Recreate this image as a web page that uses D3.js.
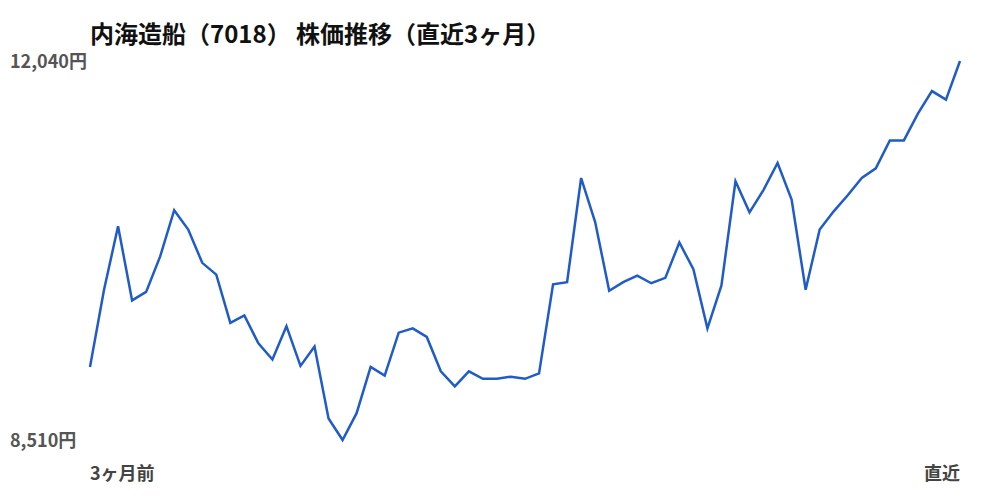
<!DOCTYPE html>
<html><head><meta charset="utf-8">
<script src="https://cdn.jsdelivr.net/npm/d3@7"></script>
<style>
html,body{margin:0;padding:0;background:#fff;}
text{font-family:"Noto Sans CJK JP","Noto Sans",sans-serif;}
</style></head>
<body>
<svg id="chart" width="1000" height="500"></svg>
<script>
const title = "内海造船（7018） 株価推移（直近3ヶ月）";
const prices = [9190,9910,10500,9810,9890,10220,10650,10470,10160,10050,
  9600,9670,9410,9260,9570,9200,9380,8710,8510,8760,
  9190,9110,9510,9550,9470,9150,9010,9150,9080,9080,
  9100,9080,9130,9960,9980,10950,10540,9900,9980,10040,
  9970,10020,10350,10100,9550,9950,10920,10630,10840,11090,
  10750,9910,10470,10640,10790,10950,11040,11300,11300,11550,
  11760,11680,12040];
const yTickLabels = ["8,510円","12,040円"];
const xTickLabels = ["3ヶ月前","直近"];

const svg = d3.select("#chart");
const x = d3.scaleLinear().domain([0, prices.length-1]).range([90,960]);
const y = d3.scaleLinear().domain([d3.min(prices), d3.max(prices)]).range([440,61]);

svg.append("text").attr("x",90).attr("y",35).attr("dy","0.35em")
  .attr("font-size",24).attr("font-weight","bold").attr("fill","#111")
  .text(title);

const yVals = [d3.min(prices), d3.max(prices)];
svg.selectAll(".ylab").data(yVals).enter().append("text")
  .attr("x",10).attr("y",d=>y(d)+1).attr("dy","0.35em")
  .attr("font-size",18).attr("font-weight","bold").attr("fill","#555")
  .text((d,i)=>yTickLabels[i]);

svg.selectAll(".xlab").data([0, prices.length-1]).enter().append("text")
  .attr("x",d=>x(d)).attr("y",474).attr("dy","0.35em")
  .attr("text-anchor",(d,i)=>i===0?"start":"end")
  .attr("font-size",18).attr("font-weight","bold").attr("fill","#444")
  .text((d,i)=>xTickLabels[i]);

const line = d3.line().x((d,i)=>x(i)).y(d=>y(d));
svg.append("path").datum(prices).attr("d",line)
  .attr("fill","none").attr("stroke","#1f5bc9").attr("stroke-width",2.5)
  .attr("stroke-linejoin","miter");
</script>
</body></html>
